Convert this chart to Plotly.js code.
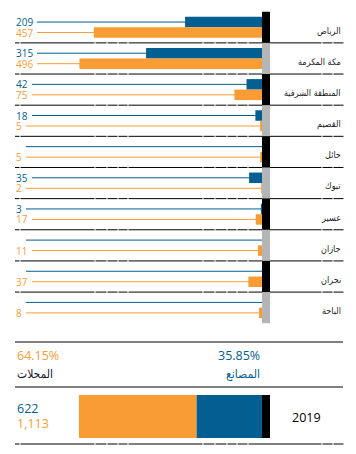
<!DOCTYPE html>
<html><head><meta charset="utf-8">
<script src="https://cdn.plot.ly/plotly-3.0.1.min.js"></script>
<style>html,body{margin:0;padding:0;background:#fff}#c{width:356px;height:454px}</style>
</head><body><div id="c"></div>
<script>
// ---- data ----
const regions = ['الرياض','مكة المكرمة','المنطقة الشرقية','القصيم','حائل','تبوك','عسير','جازان','نجران','الباحة'];
const factories = [209,315,42,18,0,35,3,0,0,0];
const shops = [457,496,75,5,5,2,17,11,37,8];
const seriesNames = ['المصانع','المحلات'];
const year = '2019';

// ---- style ----
const BLUE = '#035e92', ORANGE = '#f89c33', GREY = '#b3b5b7', BLACK = '#000000';
const W = 356, H = 454;
const NUM = '"Open Sans", "Liberation Sans", sans-serif';
const AR = '"DejaVu Sans Condensed", "DejaVu Sans", sans-serif';
const pxPerUnit = 0.368, zeroPx = 262, stripPx = 8;
const pxPerUnit2 = 0.1055;
const rowTop = 27.3, rowStep = 31.15;
const idx = regions.map((_, i) => i);
const barW = 10.5 / rowStep;

const sumF = factories.reduce((a, b) => a + b, 0);
const sumS = shops.reduce((a, b) => a + b, 0);
const total = sumF + sumS;
const fmt = n => n.toLocaleString('en-US');

const px = p => p / W;            // x pixel -> paper
const py = p => 1 - p / H;        // y pixel -> paper

const traces = [
  {type:'bar', orientation:'h', x:factories, y:idx, width:barW, offset:-barW,
   marker:{color:BLUE}, xaxis:'x', yaxis:'y', hoverinfo:'skip'},
  {type:'bar', orientation:'h', x:shops, y:idx, width:barW, offset:0,
   marker:{color:ORANGE}, xaxis:'x', yaxis:'y', hoverinfo:'skip'},
  {type:'bar', orientation:'h', x:[sumF], y:[0], base:[0], width:1, offset:-0.5,
   marker:{color:BLUE}, xaxis:'x2', yaxis:'y2', hoverinfo:'skip'},
  {type:'bar', orientation:'h', x:[sumS], y:[0], base:[sumF], width:1, offset:-0.5,
   marker:{color:ORANGE}, xaxis:'x2', yaxis:'y2', hoverinfo:'skip'}
];

const shapes = [];
const annotations = [];

// leader lines
function startPx(v) { const n = v > 0 ? String(v).length : 1; return 15 + [0, 11, 17, 22][n]; }
idx.forEach(i => {
  [[factories[i], -barW / 2, BLUE], [shops[i], barW / 2, ORANGE]].forEach(([v, off, col]) => {
    shapes.push({type:'line', layer:'below', xref:'x', yref:'y',
      x0:0, x1:(zeroPx - startPx(v)) / pxPerUnit, y0:i + off, y1:i + off,
      line:{color:col, width:1}});
    if (v > 0) annotations.push({xref:'paper', yref:'y', x:px(15), y:i + off, xanchor:'left', yanchor:'middle',
      text:String(v), showarrow:false, borderpad:0, font:{family:NUM, size:10, color:col}});
  });
  annotations.push({xref:'paper', yref:'y', x:px(343), y:i + 0.11, xanchor:'right', yanchor:'middle',
    text:regions[i], showarrow:false, font:{family:AR, size:9, color:'#1a1a1a'}});
});

// dashed (gapped) separators
const gaps = [20, 95, 107, 118, 128, 203, 215, 227, 237, 248, 322, 333];
function gappedLine(yref, y) {
  let s = 15;
  gaps.concat([344]).forEach(g => {
    shapes.push({type:'line', layer:'above', xref:'paper', yref:yref, x0:px(s), x1:px(g - 0.5), y0:y, y1:y,
      line:{color:BLACK, width:1}});
    s = g + 0.5;
  });
}
for (let i = 0; i < regions.length - 1; i++) gappedLine('y', i + 0.5);
gappedLine('paper', py(444));

// strip
idx.forEach(i => {
  shapes.push({type:'rect', layer:'above', xref:'x', yref:'y', x0:0, x1:-stripPx / pxPerUnit,
    y0:i - 0.5, y1:i + 0.5, fillcolor:i % 2 === 0 ? BLACK : GREY, line:{width:0}});
});
shapes.push({type:'rect', layer:'above', xref:'x2', yref:'y2', x0:0, x1:-stripPx / pxPerUnit2,
  y0:-0.5, y1:0.5, fillcolor:BLACK, line:{width:0}});

// solid lines
[342, 387].forEach(p => shapes.push({type:'line', xref:'paper', yref:'paper', x0:px(15), x1:px(343),
  y0:py(p), y1:py(p), line:{color:BLACK, width:1}}));

// bottom texts
annotations.push(
  {xref:'paper', yref:'paper', x:px(15), y:py(355), xanchor:'left', yanchor:'middle', showarrow:false,
   text:(sumS / total * 100).toFixed(2) + '%', font:{family:NUM, size:12.5, color:ORANGE}},
  {xref:'paper', yref:'paper', x:px(262), y:py(355), xanchor:'right', yanchor:'middle', showarrow:false,
   text:(sumF / total * 100).toFixed(2) + '%', font:{family:NUM, size:12.5, color:BLUE}},
  {xref:'paper', yref:'paper', x:px(15), y:py(374), xanchor:'left', yanchor:'middle', showarrow:false,
   text:seriesNames[1], font:{family:AR, size:12, color:'#1a1a2e'}},
  {xref:'paper', yref:'paper', x:px(262), y:py(374), xanchor:'right', yanchor:'middle', showarrow:false,
   text:seriesNames[0], font:{family:AR, size:12, color:BLUE}},
  {xref:'paper', yref:'paper', x:px(15), y:py(408), xanchor:'left', yanchor:'middle', showarrow:false,
   text:fmt(sumF), font:{family:NUM, size:12.5, color:BLUE}},
  {xref:'paper', yref:'paper', x:px(15), y:py(423), xanchor:'left', yanchor:'middle', showarrow:false,
   text:fmt(sumS), font:{family:NUM, size:12.5, color:ORANGE}},
  {xref:'paper', yref:'paper', x:px(306), y:py(417), xanchor:'center', yanchor:'middle', showarrow:false,
   text:year, font:{family:NUM, size:12.5, color:BLACK}}
);

const hidden = {showgrid:false, zeroline:false, showticklabels:false, ticks:'', showline:false, fixedrange:true};
const layout = {
  width:W, height:H, margin:{l:0, r:0, t:0, b:0}, paper_bgcolor:'#fff', plot_bgcolor:'rgba(0,0,0,0)',
  showlegend:false, barmode:'overlay', hovermode:false,
  xaxis:Object.assign({domain:[0, 1], range:[zeroPx / pxPerUnit, -(W - zeroPx) / pxPerUnit]}, hidden),
  yaxis:Object.assign({domain:[0, 1], range:[(H - rowTop) / rowStep, -rowTop / rowStep]}, hidden),
  xaxis2:Object.assign({domain:[0, 1], anchor:'y2', range:[zeroPx / pxPerUnit2, -(W - zeroPx) / pxPerUnit2]}, hidden),
  yaxis2:Object.assign({domain:[py(438), py(395)], anchor:'x2', range:[-0.5, 0.5]}, hidden),
  shapes:shapes, annotations:annotations
};
Plotly.newPlot('c', traces, layout, {displayModeBar:false, staticPlot:true});
</script></body></html>
